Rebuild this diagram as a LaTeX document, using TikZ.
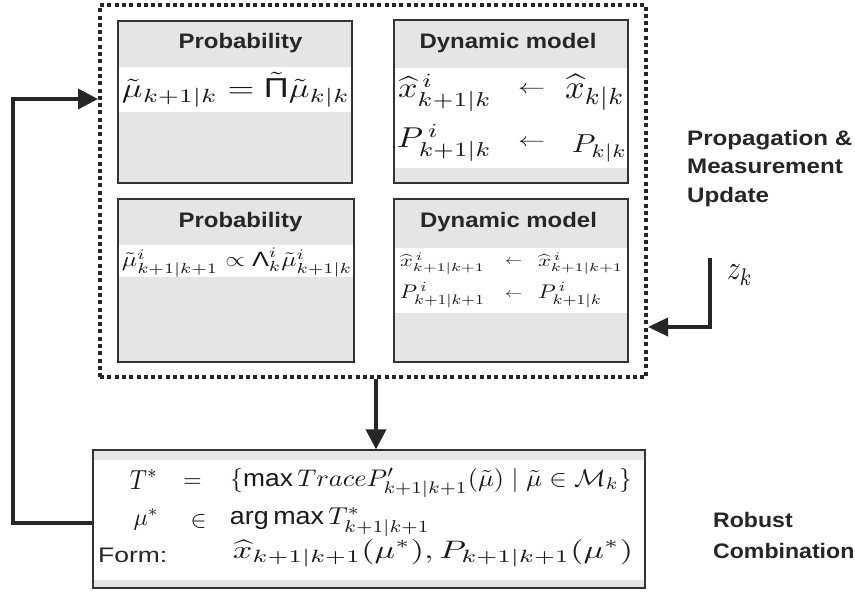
\documentclass[tikz,border=0pt]{standalone}
\usepackage{fontspec}
\usepackage{amssymb}
\usepackage{graphicx}
\usetikzlibrary{arrows.meta,calc}
\newfontfamily\arial{Liberation Sans}
\newcommand{\eqbox}[3]{\resizebox*{#1pt}{#2pt}{$#3$}}
\newcommand{\eqscale}[2]{\scalebox{#1}{$#2$}}
\newcommand{\ttlbox}[1]{\scalebox{1.14}[1]{\fontsize{21}{25}\selectfont\arial\bfseries #1}}
\newcommand{\sfop}[1]{\mbox{\arial #1}}
\begin{document}
\begin{tikzpicture}[x=1pt,y=-1pt,
  panel/.style={rectangle,draw=black!80,line width=1.3pt,fill=gray!20,inner sep=0pt},
  outerbox/.style={rectangle,draw=black!85,line width=4pt,dash pattern=on 4pt off 3.3pt,inner sep=0pt},
  eq/.style={inner sep=0pt,outer sep=0pt,text=black!90},
  ttl/.style={inner sep=0pt,anchor=base,text=black!85},
  lbl/.style={inner sep=0pt,anchor=base west,text=black!85},
  arr/.style={line width=3.6pt,draw=black!85,-{Triangle[length=20pt,width=20pt]}}]
\useasboundingbox (0,0) rectangle (855,592);
\fill[white] (0,0) rectangle (855,592);
% panels
\node[panel,minimum width=234pt,minimum height=162pt] (tl) at (235,102) {};
\node[panel,minimum width=234pt,minimum height=163pt] (tr) at (511,101.5) {};
\node[panel,minimum width=236pt,minimum height=163pt] (bl) at (236,280.5) {};
\node[panel,minimum width=234pt,minimum height=163pt] (br) at (511,280.5) {};
\node[panel,minimum width=552pt,minimum height=138pt] (bot) at (369,519) {};
% white bands
\fill[white] (119,67) rectangle (351,112);
\fill[white] (395,68) rectangle (627,168);
\fill[white] (119,245) rectangle (353,277);
\fill[white] (395,248) rectangle (627,313);
\fill[white] (94,460) rectangle (644,580);
% outer dotted box
\node[outerbox,minimum width=546pt,minimum height=372pt] (outer) at (373,191) {};
% titles
\node[ttl] (t1) at (240.5,48) {\ttlbox{Probability}};
\node[ttl] (t2) at (508,48) {\ttlbox{Dynamic model}};
\node[ttl] (t3) at (240.5,227) {\ttlbox{Probability}};
\node[ttl] (t4) at (508.5,227) {\ttlbox{Dynamic model}};
% top-left formula
\node[eq] (f1) at (236,90) {\eqbox{228}{35}{\tilde\mu_{k+1|k}=\tilde{\sfop{Π}}\tilde\mu_{k|k}}};
% top-right formulas
\node[eq] (f2a) at (445,93) {\eqbox{94}{38}{\widehat{x}^{\,i}_{k+1|k}}};
\node[eq] (f2b) at (531.5,90) {\eqbox{27}{7}{\leftarrow}};
\node[eq] (f2c) at (595,92) {\eqbox{60}{36}{\widehat{x}_{k|k}}};
\node[eq] (f2d) at (444.5,143) {\eqbox{95}{38}{P^{\,i}_{k+1|k}}};
\node[eq] (f2e) at (531.5,143) {\eqbox{27}{7}{\leftarrow}};
\node[eq] (f2f) at (599.5,148.5) {\eqbox{55}{27}{P_{k|k}}};
% bottom-left formula
\node[eq] (f3) at (237,262.5) {\eqbox{230}{29}{\tilde\mu^{i}_{k+1|k+1}\propto\sfop{Λ}^{i}_{k}\tilde\mu^{i}_{k+1|k}}};
% bottom-right formulas
\node[eq] (f4a) at (442.5,263.5) {\eqbox{85}{22}{\widehat{x}^{\,i}_{k+1|k+1}}};
\node[eq] (f4b) at (513.5,262) {\eqbox{17}{5}{\leftarrow}};
\node[eq] (f4c) at (580.5,263.5) {\eqbox{85}{22}{\widehat{x}^{\,i}_{k+1|k+1}}};
\node[eq] (f4d) at (442.5,295) {\eqbox{85}{26}{P^{\,i}_{k+1|k+1}}};
\node[eq] (f4e) at (513.5,295) {\eqbox{17}{5}{\leftarrow}};
\node[eq] (f4f) at (570,295) {\eqbox{64}{26}{P^{\,i}_{k+1|k}}};
% bottom box formulas
\node[eq] (g1) at (144,479.5) {\eqbox{28}{19}{T^{*}}};
\node[eq] (g2) at (192.5,483) {\eqscale{2.4}{=}};
\node[eq] (g3) at (431,483) {\eqbox{402}{30}{\{\sfop{max}\,Trace P'_{k+1|k+1}(\tilde\mu)\;|\;\tilde\mu\in\mathcal{M}_k\}}};
\node[eq,anchor=base east] (g4) at (159,525) {\eqscale{2.4}{\mu^{*}}};
\node[eq,anchor=base] (g5) at (198.5,527) {\eqscale{2.4}{\in}};
\node[eq] (g6) at (330,522.5) {\eqbox{200}{29}{\sfop{arg\,max}\,T^{*}_{k+1|k+1}}};
\node[lbl] (g7) at (98,562) {\scalebox{1.26}[1]{\fontsize{21}{25}\selectfont\arial Form:}};
\node[eq] (g8) at (433,553) {\eqbox{400}{28}{\widehat{x}_{k+1|k+1}(\mu^{*}),P_{k+1|k+1}(\mu^{*})}};
% side labels
\node[lbl] (prop) at (687,145) {\scalebox{1.15}[1]{\fontsize{21}{28.5}\selectfont\arial\bfseries\begin{tabular}[t]{@{}l@{}}Propagation \&\\Measurement\\Update\end{tabular}}};
\node[lbl] (rob) at (713,527) {\scalebox{1.1}[1]{\fontsize{21}{31}\selectfont\arial\bfseries\begin{tabular}[t]{@{}l@{}}Robust\\Combination\end{tabular}}};
\node[eq] (zk) at (740,275) {\eqbox{26}{20}{z_k}};
% connectors
\coordinate (dn) at (376,0);
\draw[arr] (outer.south -| dn) -- (bot.north -| dn);
\coordinate (fbx) at (13,0);
\coordinate (fblo) at (0,523);
\coordinate (fbhi) at (0,99);
\draw[arr] (bot.west |- fblo) -- (fbx |- fblo) -- (fbx |- fbhi) -- (outer.west |- fbhi);
\coordinate (zs) at (710,258);
\coordinate (zc) at (710,327);
\draw[arr,-{Triangle[length=20pt,width=18pt]}] (zs) -- (zc) -- (outer.east |- zc);
\end{tikzpicture}
\end{document}
